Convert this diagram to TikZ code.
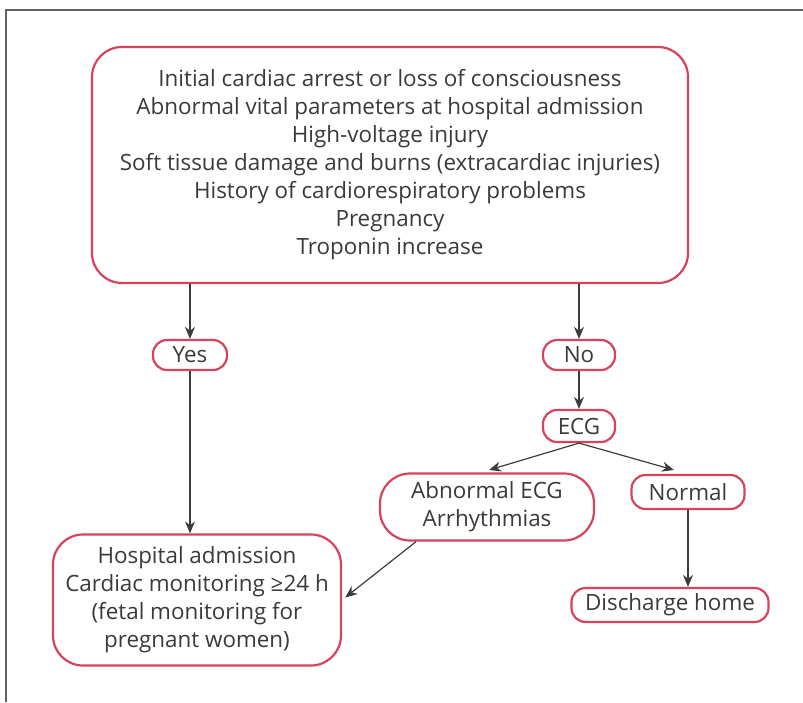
\documentclass[tikz,border=0pt]{standalone}
\usepackage{fontspec}
\setmainfont{Open Sans}
\usetikzlibrary{arrows.meta}
\definecolor{boxred}{HTML}{D6435F}
\definecolor{txtgray}{HTML}{3A3A3A}
\definecolor{arrgray}{HTML}{3C3C3C}
\tikzset{
  box/.style={draw=boxred, line width=1.1pt, rounded corners=#1, fill=white,
    align=center, inner sep=0pt, text=txtgray, font=\fontsize{11.2}{14}\selectfont},
  box/.default=7pt,
  flow/.style={-{Stealth[length=6pt,width=5pt]}, draw=arrgray, line width=0.6pt}
}
\begin{document}
\begin{tikzpicture}[x=0.5pt, y=-0.5pt]
  \useasboundingbox (0,0) rectangle (803,702);
  \draw[arrgray!80, line width=1pt] (6,702) -- (6,10) -- (803,10);

  \node[box=15pt, minimum width=298pt, minimum height=118pt] (crit) at (390,165)
    {Initial cardiac arrest or loss of consciousness\\
     Abnormal vital parameters at hospital admission\\
     High-voltage injury\\
     Soft tissue damage and burns (extracardiac injuries)\\
     History of cardiorespiratory problems\\
     Pregnancy\\
     Troponin increase};
  \node[box, minimum width=37pt, minimum height=15pt]   (yes)  at (190,355) {Yes};
  \node[box, minimum width=36pt, minimum height=15pt]   (no)   at (579,355) {No};
  \node[box, minimum width=36pt, minimum height=16pt]   (ecg)  at (579,426) {ECG};
  \node[box=15pt, minimum width=107pt, minimum height=33.5pt] (abn) at (487,507)
    {Abnormal ECG\\ Arrhythmias};
  \node[box, minimum width=56.5pt, minimum height=17pt] (norm) at (688,492) {Normal};
  \node[box=15pt, minimum width=144pt, minimum height=65.5pt] (hosp) at (197,600)
    {Hospital admission\\ Cardiac monitoring ≥24 h\\ (fetal monitoring for\\ pregnant women)};
  \node[box, minimum width=98.5pt, minimum height=17pt] (home) at (670,605) {Discharge home};

  \coordinate (abnIn)  at (489,470);
  \coordinate (normIn) at (674,470);

  \draw[flow] (yes |- crit.south) -- (yes.north);
  \draw[flow] (no |- crit.south)  -- (no.north);
  \draw[flow] (yes.south) -- (hosp.north -| yes);
  \draw[flow] (no.south)  -- (ecg.north);
  \draw[flow] (ecg.south) -- (abnIn);
  \draw[flow] (ecg.south) -- (normIn);
  \draw[flow] (norm.south) -- (home.north -| norm);
  \draw[flow, shorten >=2pt] (abn.206) -- (hosp.east);
\end{tikzpicture}
\end{document}
